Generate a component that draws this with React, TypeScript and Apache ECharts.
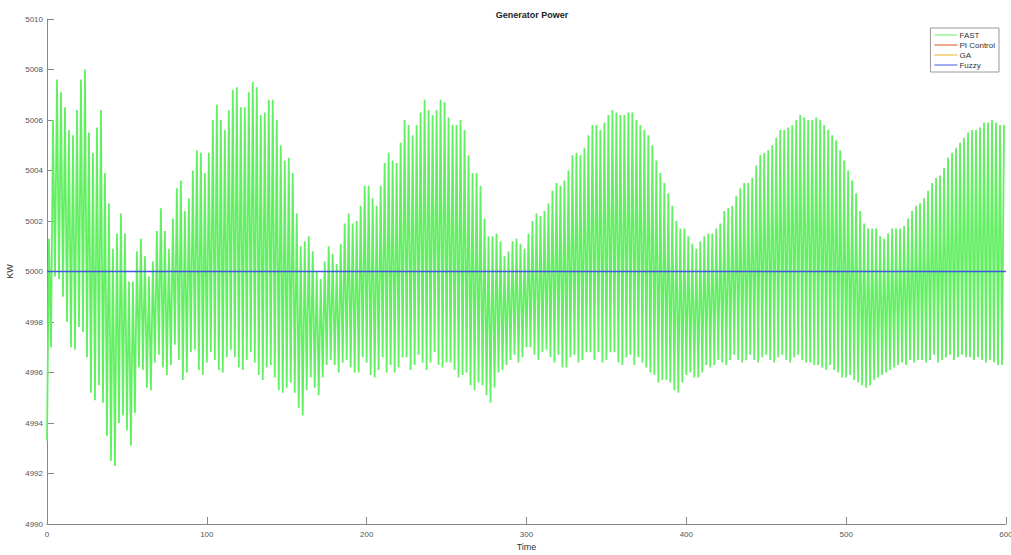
import React, { useEffect, useRef } from "react";
import * as echarts from "echarts";

// Time axis
const timeTicks = [0, 100, 200, 300, 400, 500, 600];
const fastStep = 2.5; // one oscillation cycle of the FAST trace (time units)

// FAST trace: troughs at t = k*2.5, peaks at t = k*2.5 + 1.25
const fastTroughs = [
  4993.3, 4997.0, 4999.8, 4999.7, 4999.0, 4998.0, 4997.0, 4996.9,
  4997.8, 4997.6, 4996.6, 4995.2, 4994.9, 4995.5, 4994.8, 4993.5,
  4992.5, 4992.3, 4994.0, 4994.3, 4993.7, 4993.1, 4994.4, 4996.2,
  4996.1, 4995.4, 4995.3, 4996.4, 4996.7, 4996.2, 4995.9, 4996.3,
  4997.1, 4996.5, 4995.7, 4996.0, 4996.8, 4996.9, 4996.1, 4995.9,
  4996.4, 4996.8, 4996.5, 4996.1, 4996.0, 4996.6, 4996.9, 4996.6,
  4996.2, 4996.1, 4996.5, 4996.8, 4996.4, 4995.9, 4995.7, 4996.2,
  4996.3, 4995.8, 4995.3, 4995.2, 4995.4, 4995.6, 4995.2, 4994.6,
  4994.3, 4995.3, 4995.8, 4995.4, 4995.1, 4995.8, 4996.3, 4996.5,
  4996.3, 4996.0, 4996.4, 4996.5, 4996.2, 4996.0, 4996.0, 4996.6,
  4996.4, 4995.9, 4995.8, 4996.1, 4996.6, 4996.0, 4996.3, 4996.0,
  4996.2, 4996.6, 4996.6, 4996.1, 4996.3, 4996.7, 4996.4, 4996.1,
  4996.4, 4996.8, 4996.3, 4996.2, 4996.4, 4996.4, 4996.1, 4995.8,
  4995.9, 4996.0, 4995.5, 4995.3, 4995.6, 4995.5, 4995.1, 4994.8,
  4995.4, 4996.0, 4996.1, 4996.3, 4996.5, 4996.7, 4996.4, 4996.6,
  4997.0, 4997.0, 4996.7, 4996.5, 4996.8, 4996.9, 4996.6, 4996.4,
  4996.7, 4996.2, 4996.2, 4996.6, 4996.7, 4996.4, 4996.5, 4996.8,
  4996.8, 4996.5, 4996.8, 4996.4, 4996.5, 4996.8, 4996.8, 4996.4,
  4996.3, 4996.6, 4996.7, 4996.3, 4996.6, 4996.4, 4996.2, 4996.0,
  4995.9, 4995.6, 4995.7, 4995.7, 4995.6, 4995.3, 4995.2, 4995.6,
  4995.9, 4996.0, 4995.8, 4995.8, 4996.0, 4996.3, 4996.2, 4996.3,
  4996.5, 4996.4, 4996.3, 4996.5, 4996.7, 4996.5, 4996.4, 4996.5,
  4996.7, 4996.5, 4996.4, 4996.6, 4996.7, 4996.5, 4996.4, 4996.6,
  4996.7, 4996.5, 4996.4, 4996.6, 4996.7, 4996.5, 4996.4, 4996.4,
  4996.3, 4996.3, 4996.2, 4996.1, 4996.3, 4996.1, 4996.0, 4995.8,
  4995.8, 4995.9, 4995.7, 4995.6, 4995.5, 4995.4, 4995.5, 4995.7,
  4995.8, 4995.9, 4996.0, 4996.1, 4996.2, 4996.3, 4996.4, 4996.3,
  4996.5, 4996.4, 4996.5, 4996.5, 4996.4, 4996.5, 4996.7, 4996.4,
  4996.5, 4996.6, 4996.7, 4996.5, 4996.6, 4996.7, 4996.6, 4996.6,
  4996.5, 4996.6, 4996.5, 4996.4, 4996.5, 4996.4, 4996.3, 4996.3,
];

const fastPeaks = [
  5001.3, 5006.0, 5007.6, 5007.1, 5006.5, 5005.6, 5005.4, 5006.4,
  5007.6, 5008.0, 5005.5, 5004.7, 5005.7, 5006.4, 5003.9, 5002.7,
  5000.9, 5001.5, 5002.3, 5001.5, 4999.6, 4999.6, 5000.8, 5001.3,
  5000.6, 4999.8, 5000.4, 5001.6, 5002.5, 5001.6, 5000.9, 5002.1,
  5003.3, 5003.6, 5002.4, 5002.9, 5004.0, 5004.8, 5004.7, 5003.9,
  5004.7, 5006.0, 5006.6, 5006.0, 5005.6, 5006.4, 5007.2, 5007.3,
  5006.5, 5006.5, 5007.1, 5007.5, 5007.3, 5006.2, 5006.3, 5006.8,
  5006.8, 5006.0, 5005.0, 5004.4, 5004.5, 5003.9, 5002.3, 5001.0,
  5001.2, 5001.4, 5000.8, 5000.0, 4999.7, 5000.4, 5001.0, 5000.7,
  5000.3, 5001.1, 5001.9, 5002.3, 5001.9, 5002.0, 5002.6, 5003.4,
  5003.4, 5002.9, 5002.6, 5003.4, 5004.3, 5004.7, 5004.4, 5004.3,
  5005.1, 5006.0, 5005.8, 5005.4, 5005.8, 5006.3, 5006.8, 5006.4,
  5006.2, 5006.4, 5006.8, 5006.7, 5006.1, 5005.8, 5005.8, 5006.0,
  5005.6, 5004.6, 5003.9, 5003.9, 5003.4, 5002.1, 5001.4, 5001.4,
  5001.5, 5001.2, 5000.6, 5000.8, 5001.2, 5001.3, 5001.1, 5000.9,
  5001.5, 5002.0, 5002.3, 5002.2, 5002.4, 5002.7, 5003.2, 5003.5,
  5003.4, 5003.6, 5004.0, 5004.6, 5004.7, 5004.6, 5004.9, 5005.4,
  5005.8, 5005.8, 5005.6, 5005.9, 5006.2, 5006.4, 5006.3, 5006.2,
  5006.2, 5006.3, 5006.3, 5006.0, 5005.8, 5005.6, 5005.4, 5005.0,
  5004.4, 5003.9, 5003.5, 5003.1, 5002.6, 5002.0, 5001.7, 5001.7,
  5001.4, 5001.1, 5000.9, 5001.2, 5001.4, 5001.5, 5001.5, 5001.7,
  5001.9, 5002.4, 5002.5, 5002.6, 5003.0, 5003.3, 5003.5, 5003.5,
  5003.7, 5004.2, 5004.6, 5004.7, 5004.8, 5005.0, 5005.3, 5005.6,
  5005.6, 5005.7, 5005.8, 5006.0, 5006.2, 5006.1, 5006.0, 5006.0,
  5006.1, 5006.0, 5005.8, 5005.6, 5005.4, 5005.2, 5004.8, 5004.4,
  5004.0, 5003.6, 5003.1, 5002.4, 5001.9, 5001.7, 5001.7, 5001.7,
  5001.4, 5001.3, 5001.5, 5001.7, 5001.7, 5001.7, 5001.8, 5002.1,
  5002.4, 5002.6, 5002.7, 5002.9, 5003.2, 5003.5, 5003.7, 5003.8,
  5004.1, 5004.5, 5004.7, 5004.9, 5005.1, 5005.3, 5005.5, 5005.6,
  5005.6, 5005.7, 5005.9, 5005.9, 5006.0, 5005.9, 5005.8, 5005.8,
];

// Controlled traces (flat at the set point)
const controlTimes = [0, 600];
const piControl = [5000, 5000];
const gaValues = [5000, 5000];
const fuzzyValues = [5000, 5000];

const seriesNames = ["FAST", "PI Control", "GA", "Fuzzy"];

const FONT = "'Liberation Sans', Arial, Helvetica, sans-serif";

export default function App() {
  const ref = useRef<HTMLDivElement>(null);

  useEffect(() => {
    if (!ref.current) return;
    const chart = echarts.init(ref.current, null, { renderer: "svg" });

    const fastData: number[][] = [];
    for (let k = 0; k < fastTroughs.length; k++) {
      fastData.push([k * fastStep, fastTroughs[k]]);
      fastData.push([k * fastStep + fastStep / 2, fastPeaks[k]]);
    }
    const pair = (vals: number[]) => controlTimes.map((t, i) => [t, vals[i]]);

    const lineSeries = (name: string, data: number[][], color: string, width: number, z: number) => ({
      name,
      type: "line",
      data,
      showSymbol: false,
      symbol: "none",
      lineStyle: { color, width },
      itemStyle: { color },
      z,
      zlevel: 0,
      silent: true,
    });

    chart.setOption({
      animation: false,
      backgroundColor: "#ffffff",
      textStyle: { fontFamily: FONT },
      title: {
        text: "Generator Power",
        left: 527,
        textAlign: "center",
        top: 5,
        textStyle: { fontSize: 9, fontWeight: "bold", color: "#222", fontFamily: FONT },
      },
      legend: {
        data: seriesNames,
        orient: "vertical",
        right: 12,
        top: 28,
        icon: "rect",
        itemWidth: 23,
        itemHeight: 1,
        itemGap: 2,
        padding: [3, 4, 3, 4],
        borderColor: "#999",
        borderWidth: 1,
        backgroundColor: "#fff",
        textStyle: { fontSize: 8, color: "#333", lineHeight: 8, fontFamily: FONT, padding: [0, 0, 0, -3] },
      },
      grid: { left: 47, right: 5, top: 19, bottom: 31, containLabel: false, outerBoundsMode: "none" },
      xAxis: {
        type: "value",
        min: timeTicks[0],
        max: timeTicks[timeTicks.length - 1],
        interval: 100,
        name: "Time",
        nameLocation: "middle",
        nameGap: 17,
        nameTextStyle: { fontSize: 9, color: "#333", fontFamily: FONT },
        axisLine: { show: true, onZero: false, lineStyle: { color: "#888", width: 1 } },
        axisTick: { show: true, inside: true, length: 7, lineStyle: { color: "#888" } },
        axisLabel: { fontSize: 8, color: "#555", margin: 6, fontFamily: FONT, formatter: (v: number) => String(v) },
        splitLine: { show: false },
      },
      yAxis: {
        type: "value",
        min: 4990,
        max: 5010,
        interval: 2,
        name: "KW",
        nameLocation: "middle",
        nameGap: 26,
        nameRotate: 90,
        nameTextStyle: { fontSize: 9, color: "#333", fontFamily: FONT },
        axisLine: { show: true, onZero: false, lineStyle: { color: "#888", width: 1 } },
        axisTick: { show: true, inside: true, length: 7, lineStyle: { color: "#888" } },
        axisLabel: { fontSize: 8, color: "#555", margin: 4, fontFamily: FONT, formatter: (v: number) => String(v) },
        splitLine: { show: false },
      },
      series: [
        lineSeries("FAST", fastData, "#62f062", 1.8, 2),
        lineSeries("PI Control", pair(piControl), "#d95319", 0.8, 3),
        lineSeries("GA", pair(gaValues), "#edb120", 0.8, 4),
        lineSeries("Fuzzy", pair(fuzzyValues), "#4356e0", 1.6, 10),
      ],
    });

    return () => chart.dispose();
  }, []);

  return (
    <div
      ref={ref}
      style={{ position: "fixed", left: 0, top: 0, width: 1011, height: 555, background: "#fff" }}
    />
  );
}
